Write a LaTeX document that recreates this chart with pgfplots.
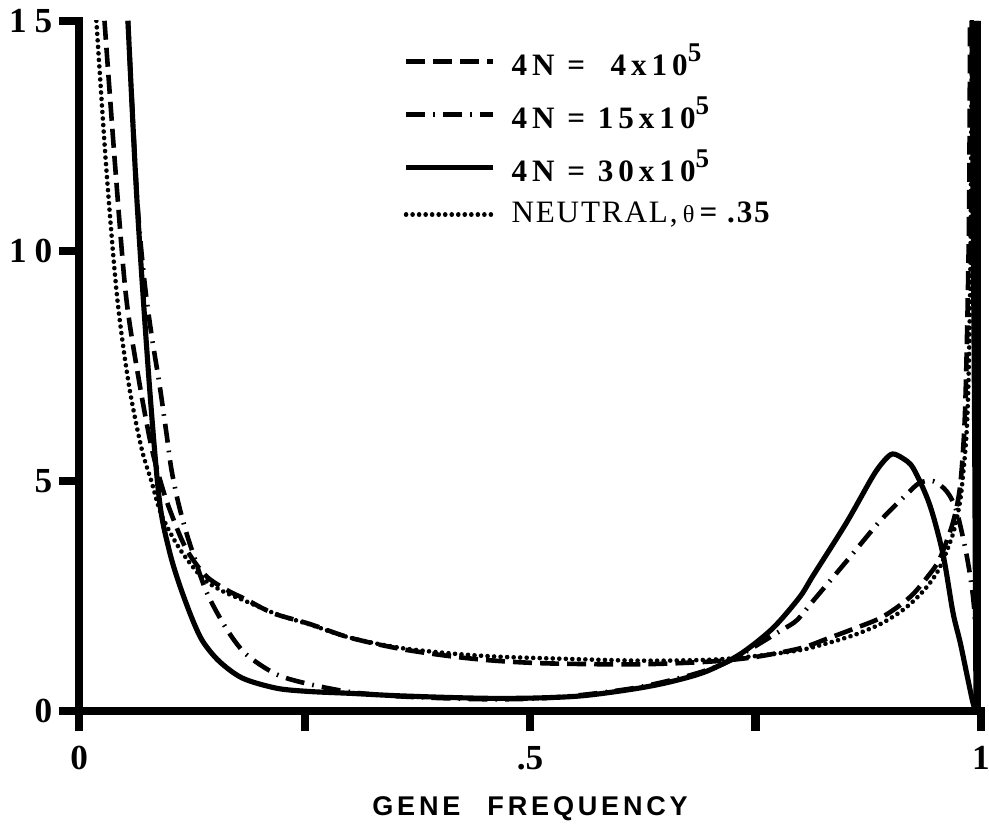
\documentclass[border=0pt]{standalone}
\usepackage{fontspec}
\setmainfont{Liberation Serif}
\newfontfamily\labfont[LetterSpace=14]{Liberation Sans}
\newfontfamily\legfont[LetterSpace=16]{Liberation Serif}
\newfontfamily\neufont[LetterSpace=6]{Liberation Serif}
\usepackage{pgfplots}
\pgfplotsset{compat=1.18}

\newcommand{\sfive}{\raisebox{1ex}{\fontsize{10}{10}\selectfont 5}}

\begin{document}
\begin{tikzpicture}
\begin{axis}[
    scale only axis,
    width=333pt, height=255pt,
    xmin=0, xmax=1, ymin=0, ymax=15,
    axis lines=left,
    axis line style={-, line width=3pt, line cap=rect},
    xtick={0,0.25,0.5,0.75,1},
    xticklabels={0,,.5,,1},
    ytick={0,5,10,15},
    yticklabels={0,5,1\hspace{3pt}0,1\hspace{3pt}5},
    tick align=outside,
    major tick length=7.4pt,
    tick style={line width=3pt, black},
    ticklabel style={font=\bfseries\fontsize{13}{15}\selectfont},
    xticklabel style={yshift=-2pt},
    yticklabel style={xshift=1pt},
    xlabel={\labfont\bfseries\fontsize{10}{12}\selectfont GENE\quad FREQUENCY},
    xlabel style={yshift=-3pt},
    legend style={draw=none, fill=none, at={(axis cs:0.35,14.75)}, anchor=north west,
        row sep=2.2pt, font=\fontsize{11.5}{13}\selectfont,
        /tikz/every odd column/.append style={column sep=4pt}},
    legend cell align=left,
    legend image code/.code={\draw[#1] (0pt,0pt) -- (32pt,0pt);},
]

% 4N = 4x10^5
\addplot[black, line width=1.7pt, dash pattern=on 7pt off 3pt, smooth, tension=0.5] coordinates {
(0.028,15) (0.040,11.8) (0.052,9.0) (0.067,7.1) (0.080,5.75) (0.090,5.0) (0.100,4.4)
(0.118,3.55) (0.140,2.95) (0.165,2.62) (0.185,2.43) (0.215,2.13) (0.255,1.9) (0.30,1.6)
(0.355,1.36) (0.41,1.2) (0.46,1.1) (0.52,1.04) (0.62,1.02) (0.70,1.08) (0.75,1.18)
(0.80,1.37) (0.83,1.58) (0.86,1.8) (0.888,2.02) (0.91,2.3) (0.925,2.55) (0.94,2.9)
(0.954,3.3) (0.969,4.1) (0.977,4.9) (0.982,6.3) (0.985,8.5) (0.987,11) (0.988,15)
};
\addlegendentry{\legfont\bfseries 4N =\ \ 4x10\sfive}

% 4N = 15x10^5
\addplot[black, line width=1.7pt, dash pattern=on 7pt off 3pt on 0.6pt off 3pt, smooth, tension=0.5] coordinates {
(0.054,15) (0.064,11.2) (0.072,9.4) (0.080,8.2) (0.089,7.1) (0.097,6.0) (0.102,5.28)
(0.109,4.6) (0.117,4.0) (0.125,3.5) (0.141,2.6) (0.163,1.8) (0.185,1.24) (0.219,0.8)
(0.255,0.59) (0.30,0.42) (0.35,0.33) (0.41,0.28) (0.46,0.26) (0.51,0.28) (0.56,0.36)
(0.62,0.52) (0.677,0.78) (0.72,1.08) (0.777,1.74) (0.796,1.98) (0.814,2.4) (0.851,3.26)
(0.888,4.13) (0.918,4.72) (0.932,4.96) (0.947,5.0) (0.962,4.78) (0.973,4.35)
(0.984,3.41) (0.991,2.54) (0.995,1.6) (0.997,0.8)
};
\addlegendentry{\legfont\bfseries 4N = 15x10\sfive}

% 4N = 30x10^5
\addplot[black, line width=1.9pt, smooth, tension=0.5] coordinates {
(0.054,15) (0.064,11.1) (0.0777,7.11) (0.089,4.57) (0.100,3.48) (0.111,2.76)
(0.125,2.02) (0.137,1.52) (0.155,1.09) (0.181,0.72) (0.219,0.50) (0.255,0.43)
(0.30,0.39) (0.35,0.34) (0.41,0.30) (0.46,0.28) (0.51,0.29) (0.56,0.34) (0.62,0.5)
(0.66,0.66) (0.696,0.87) (0.733,1.24) (0.769,1.8) (0.799,2.48) (0.814,2.95)
(0.851,4.1) (0.880,5.1) (0.893,5.45) (0.902,5.59) (0.913,5.5) (0.925,5.28)
(0.943,4.5) (0.958,3.41) (0.969,2.15) (0.977,1.5) (0.985,0.75) (0.991,0.2) (0.994,0.02)
};
\addlegendentry{\legfont\bfseries 4N = 30x10\sfive}

% neutral, theta = .35
\addplot[black, line width=1.7pt, line cap=round, dash pattern=on 0.01pt off 2.4pt, smooth, tension=0.5] coordinates {
(0.019,15) (0.030,11.8) (0.042,9.0) (0.055,7.1) (0.069,5.72) (0.080,5.0) (0.091,4.28)
(0.111,3.54) (0.137,2.89) (0.160,2.6) (0.185,2.39) (0.22,2.1) (0.255,1.89) (0.30,1.6)
(0.355,1.38) (0.41,1.26) (0.46,1.19) (0.52,1.15) (0.62,1.1) (0.70,1.12) (0.75,1.2)
(0.80,1.33) (0.83,1.48) (0.86,1.66) (0.888,1.89) (0.91,2.15) (0.925,2.39) (0.94,2.7)
(0.954,3.11) (0.969,3.85) (0.977,4.57) (0.981,5.3) (0.984,6.0) (0.986,7.0)
(0.988,9.0) (0.989,11.5) (0.990,15)
};
\addlegendentry{\neufont NEUTRAL,\,{\small θ}\,\textbf{= .35}}

% steep rises at the right edge
\addplot[black, line width=3pt, forget plot] coordinates {
(0.997,0.0) (0.9985,15)
};
\addplot[black, line width=3.5pt, forget plot] coordinates {
(0.9925,15) (0.9955,6) (0.997,0)
};

\coordinate (xend) at (axis cs:1,0);
\end{axis}
\pgfresetboundingbox
\path[use as bounding box] (current axis.outer south west)
    rectangle ([xshift=3pt]xend |- current axis.outer north east);
\end{tikzpicture}
\end{document}
